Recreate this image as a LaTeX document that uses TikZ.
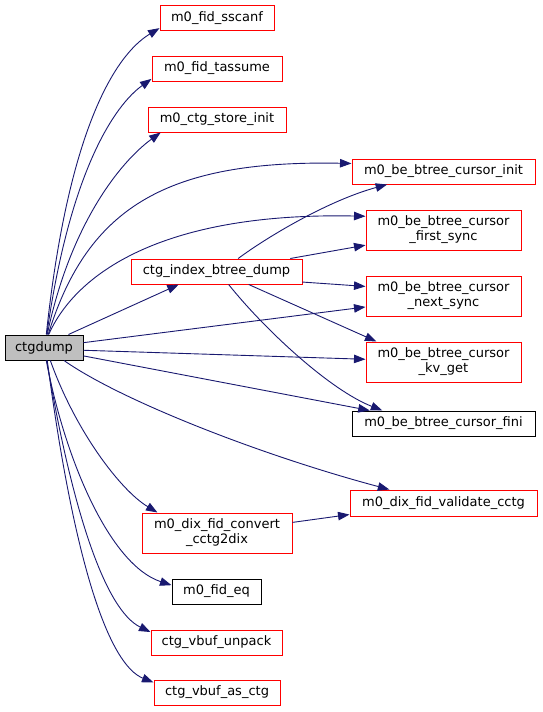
\documentclass[tikz,border=0pt]{standalone}
\usepackage{fontspec}
\setmainfont{DejaVu Sans}
\usepackage{xcolor}
\definecolor{DoxBlue}{RGB}{25,25,112}
\definecolor{DoxRed}{RGB}{255,0,0}
\definecolor{DoxGray}{RGB}{191,191,191}
\usetikzlibrary{arrows.meta}

\begin{document}
\begin{tikzpicture}[x=1pt, y=1pt, >=Triangle, font=\fontsize{13}{15}\selectfont]
\tikzstyle{fnA}=[draw=DoxRed, line width=1pt, fill=white, inner sep=0pt, minimum height=25pt, align=center]
\tikzstyle{fnB}=[fnA, draw=black]
\tikzstyle{fnRoot}=[fnA, draw=black, fill=DoxGray]
\tikzstyle{call}=[-{Triangle[length=11.5pt, width=8.5pt]}, line width=0.9pt, draw=DoxBlue]

\useasboundingbox (0,0) rectangle (543,-712);

\node[fnRoot, minimum width=78pt] (dump) at (44,-347.5) {ctgdump};

\node[fnA, minimum width=114pt] (sscanf) at (217,-18) {m0\_fid\_sscanf};
\node[fnA, minimum width=130pt] (tassume) at (217,-68.5) {m0\_fid\_tassume};
\node[fnA, minimum width=138pt] (storeinit) at (217,-119.5) {m0\_ctg\_store\_init};
\node[fnA, minimum width=171pt] (btdump) at (216.5,-271.5) {ctg\_index\_btree\_dump};
\node[fnA, minimum width=150pt, minimum height=40pt] (convert) at (217,-533) {m0\_dix\_fid\_convert\\\_cctg2dix};
\node[fnB, minimum width=89pt] (fideq) at (216.5,-591.5) {m0\_fid\_eq};
\node[fnA, minimum width=131pt] (unpack) at (216.5,-642.5) {ctg\_vbuf\_unpack};
\node[fnA, minimum width=126pt] (asctg) at (217,-692.5) {ctg\_vbuf\_as\_ctg};

\node[fnA, minimum width=183pt] (curinit) at (443.5,-171.5) {m0\_be\_btree\_cursor\_init};
\node[fnA, minimum width=155pt, minimum height=40pt] (firstsync) at (443.5,-230) {m0\_be\_btree\_cursor\\\_first\_sync};
\node[fnA, minimum width=155pt, minimum height=40pt] (nextsync) at (443.5,-296) {m0\_be\_btree\_cursor\\\_next\_sync};
\node[fnA, minimum width=155pt, minimum height=40pt] (kvget) at (443.5,-362) {m0\_be\_btree\_cursor\\\_kv\_get};
\node[fnB, minimum width=183pt] (curfini) at (443.5,-423.5) {m0\_be\_btree\_cursor\_fini};
\node[fnA, minimum width=187pt, minimum height=26pt] (validate) at (443.5,-503) {m0\_dix\_fid\_validate\_cctg};

% calls made by ctgdump
\draw[call] (dump.80) .. controls (68,-130) and (115,-55) .. (sscanf.190);
\draw[call] (dump.78) .. controls (70,-170) and (115,-105) .. (tassume.189);
\draw[call] (dump.76) .. controls (70,-225) and (120,-162) .. (storeinit.193);
\draw[call] (dump.72) .. controls (88,-205) and (170,-160) .. (curinit.175);
\draw[call] (dump.70) .. controls (75,-275) and (160,-212) .. (firstsync.170);
\draw[call] (dump.28) -- (btdump.199);
\draw[call] (dump.7) -- (nextsync.188);
\draw[call] (dump.-4) -- (kvget.178);
\draw[call] (dump.-12) -- (curfini.170);
\draw[call] (dump.-33) .. controls (120,-400) and (260,-455) .. (validate.166);
\draw[call] (dump.-64) .. controls (75,-430) and (120,-490) .. (convert.161);
\draw[call] (dump.-80) .. controls (65,-460) and (110,-565) .. (fideq.172);
\draw[call] (dump.-78) .. controls (72,-510) and (105,-610) .. (unpack.171);
\draw[call] (dump.-76) .. controls (75,-570) and (110,-665) .. (asctg.171);

% calls made by ctg_index_btree_dump
\draw[call] (btdump.31) .. controls (270,-235) and (330,-200) .. (curinit.193);
\draw[call] (btdump.10) -- (firstsync.191);
\draw[call] (btdump.-7) -- (nextsync.173);
\draw[call] (btdump.-22) -- (kvget.163);
\draw[call] (btdump.-47) .. controls (265,-330) and (330,-390) .. (curfini.168);

\draw[call] (convert.8) -- (validate.187);
\end{tikzpicture}
\end{document}
